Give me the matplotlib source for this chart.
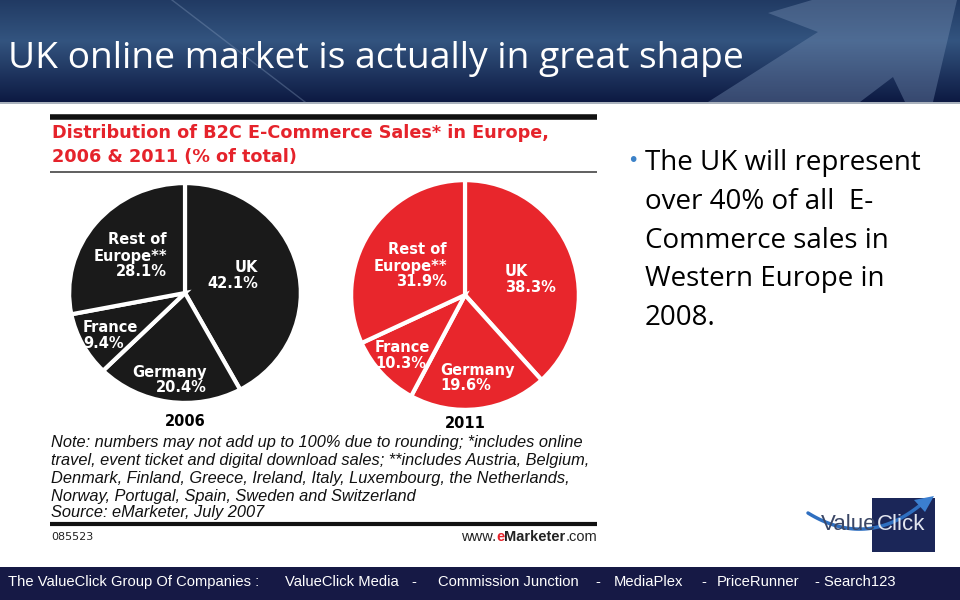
#!/usr/bin/env python3
"""
Slide: UK online market is actually in great shape.
Two pies of B2C e-commerce share in Europe, 2006 vs 2011.
"""

import numpy as np
import matplotlib
matplotlib.use('Agg')
import matplotlib.pyplot as plt
from matplotlib.patches import Rectangle, Polygon

# --- data -------------------------------------------------------------
regions = ['UK', 'Germany', 'France', 'Rest of\nEurope**']
share_2006 = [42.1, 20.4, 9.4, 28.1]
share_2011 = [38.3, 19.6, 10.3, 31.9]
years = ['2006', '2011']

bullet_lines = ['The UK will represent', 'over 40% of all  E-', 'Commerce sales in',
                'Western Europe in', '2008.']
note_lines = [
    'Note: numbers may not add up to 100% due to rounding; *includes online',
    'travel, event ticket and digital download sales; **includes Austria, Belgium,',
    'Denmark, Finland, Greece, Ireland, Italy, Luxembourg, the Netherlands,',
    'Norway, Portugal, Spain, Sweden and Switzerland',
    'Source: eMarketer, July 2007',
]
footer_parts = ['The ValueClick Group Of Companies :', 'ValueClick Media', '-',
                'Commission Junction', '-', 'MediaPlex', '-', 'PriceRunner', '- Search123']

W, H = 960, 600
fig = plt.figure(figsize=(9.6, 6), dpi=100)
fig.patch.set_facecolor('white')

ax = fig.add_axes([0, 0, 1, 1])
ax.set_xlim(0, W)
ax.set_ylim(H, 0)
ax.axis('off')
ax.set_zorder(5)  # text layer above the pie axes

renderer = fig.canvas.get_renderer()


def chain(x, y, parts, **kw):
    """Write text pieces one after another, each with its own style."""
    for s, style in parts:
        t = ax.text(x, y, s, va='center', ha='left', **{**kw, **style})
        bb = t.get_window_extent(renderer=renderer)
        x += bb.width
    return x


# --- header -----------------------------------------------------------
grad = np.linspace(0, 1, 100)[:, None]
top = np.array([0.13, 0.23, 0.39])
mid = np.array([0.20, 0.33, 0.50])
bot = np.array([0.05, 0.10, 0.26])
g = grad[..., None]
cols = np.where(g < 0.4, top + (mid - top) * (g / 0.4),
                mid + (bot - mid) * ((g - 0.4) / 0.6))
img = np.repeat(cols, 2, axis=1)
ax.imshow(img, extent=(0, W, 102, 0), aspect='auto', zorder=0)
# lighter arrow pointing up-right
ax.add_patch(Polygon([[768, 13], [812, 0], [957, 0], [933, 102], [905, 102],
                      [893, 77], [860, 102], [708, 102], [818, 32]],
                     closed=True, facecolor='#7890b4', alpha=0.4, lw=0, zorder=1))
ax.plot([172, 305], [0, 102], color='#8aa0c0', lw=1, alpha=0.35, zorder=1)
ax.plot([0, W], [102.5, 102.5], color='#9aa3b0', lw=1.2, zorder=2)
ax.text(8, 59, 'UK online market is actually in great shape', color='white',
        fontsize=26.8, family='Open Sans', va='center', ha='left', zorder=3)

# --- footer -----------------------------------------------------------
ax.add_patch(Rectangle((0, 567), W, 33, facecolor='#161945', lw=0, zorder=1))
footer_x = [8, 285, 411, 438, 595, 614, 701, 717, 815]
for x, s in zip(footer_x, footer_parts):
    ax.text(x, 582, s, color='white', fontsize=10.6, family='Liberation Sans',
            va='center', ha='left', zorder=2)

# --- chart frame ------------------------------------------------------
ax.plot([50, 597], [117, 117], color='#111111', lw=4, solid_capstyle='butt')
ax.plot([50, 597], [172, 172], color='#444444', lw=1.2, solid_capstyle='butt')
ax.plot([50, 597], [524, 524], color='#111111', lw=3, solid_capstyle='butt')
red = '#e5232b'
ax.text(52, 133, 'Distribution of B2C E-Commerce Sales* in Europe,', color=red,
        fontsize=12.7, fontweight='bold', va='center', ha='left')
ax.text(52, 157, '2006 & 2011 (% of total)', color=red,
        fontsize=12.7, fontweight='bold', va='center', ha='left')


def px_axes(x0, y0, x1, y1):
    return fig.add_axes([x0 / W, 1 - y1 / H, (x1 - x0) / W, (y1 - y0) / H])


# --- pies -------------------------------------------------------------
pie_boxes = [(68, 182, 302, 404), (350, 179, 580, 411)]
pie_colors = ['#1a1a1a', '#e8262c']
for box, vals, c in zip(pie_boxes, [share_2006, share_2011], pie_colors):
    pax = px_axes(*box)
    pax.pie(vals, colors=[c] * len(vals), startangle=90, counterclock=False,
            wedgeprops=dict(edgecolor='white', linewidth=3))
    pax.set_aspect('auto')
    pax.set_xlim(-1.01, 1.01)
    pax.set_ylim(-1.01, 1.01)
    pax.axis('off')

# label anchors (x, first line y, alignment) in region order
label_pos = [
    [(258, 268, 'right'), (207, 372, 'right'), (83, 328, 'left'), (167, 240, 'right')],
    [(505, 272, 'left'), (440, 370, 'left'), (375, 348, 'left'), (447, 250, 'right')],
]
for vals, pos in zip([share_2006, share_2011], label_pos):
    for name, v, (x, y, ha) in zip(regions, vals, pos):
        lines = name.split('\n') + [f'{v}%']
        for i, s in enumerate(lines):
            ax.text(x, y + i * 16, s, color='white', fontsize=10.5, fontweight='bold',
                    family='DejaVu Sans', va='center', ha=ha)

ax.text(185, 422, years[0], fontsize=10.5, fontweight='bold', ha='center', va='center')
ax.text(465, 424, years[1], fontsize=10.5, fontweight='bold', ha='center', va='center')

# --- notes ------------------------------------------------------------
note_y = [443, 461, 478, 496, 512]
for y, s in zip(note_y, note_lines):
    ax.text(51, y, s, fontsize=11.8, style='italic', family='Liberation Sans',
            color='#111111', va='center', ha='left')
ax.text(51, 537, '085523', fontsize=8, color='#222222', va='center', ha='left')
chain(461, 537, [('www.', {}), ('e', dict(color=red, fontweight='bold')),
                 ('Marketer', dict(fontweight='bold')), ('.com', {})],
      fontsize=10.5, color='#222222', family='Liberation Sans')

# --- bullet text ------------------------------------------------------
ax.text(627, 161, '\u2022', color='#3c82c8', fontsize=14, va='center', ha='left')
for i, s in enumerate(bullet_lines):
    ax.text(645, 163 + i * 38.8, s, fontsize=20, family='Open Sans', color='black',
            va='center', ha='left')

# --- logo -------------------------------------------------------------
ax.add_patch(Rectangle((872, 498), 63, 54, facecolor='#1b2658', lw=0, zorder=3))
t = np.linspace(0, 1, 60)[:, None]
p0, p1, p2 = np.array([808, 513]), np.array([868, 550]), np.array([924, 502])
curve = (1 - t) ** 2 * p0 + 2 * (1 - t) * t * p1 + t ** 2 * p2
ax.plot(curve[:, 0], curve[:, 1], color='#2f6fc0', lw=2.5, zorder=4,
        solid_capstyle='round')
ax.add_patch(Polygon([[914, 500], [934, 496], [925, 512]], closed=True,
                     facecolor='#3b7fd0', lw=0, zorder=4))
chain(821, 525, [('Value', dict(color='#3b4766')), ('Click', dict(color='#e2e5ef'))],
      fontsize=16, family='Liberation Sans', zorder=5)

fig.savefig('out.png', dpi=100, facecolor='white')
